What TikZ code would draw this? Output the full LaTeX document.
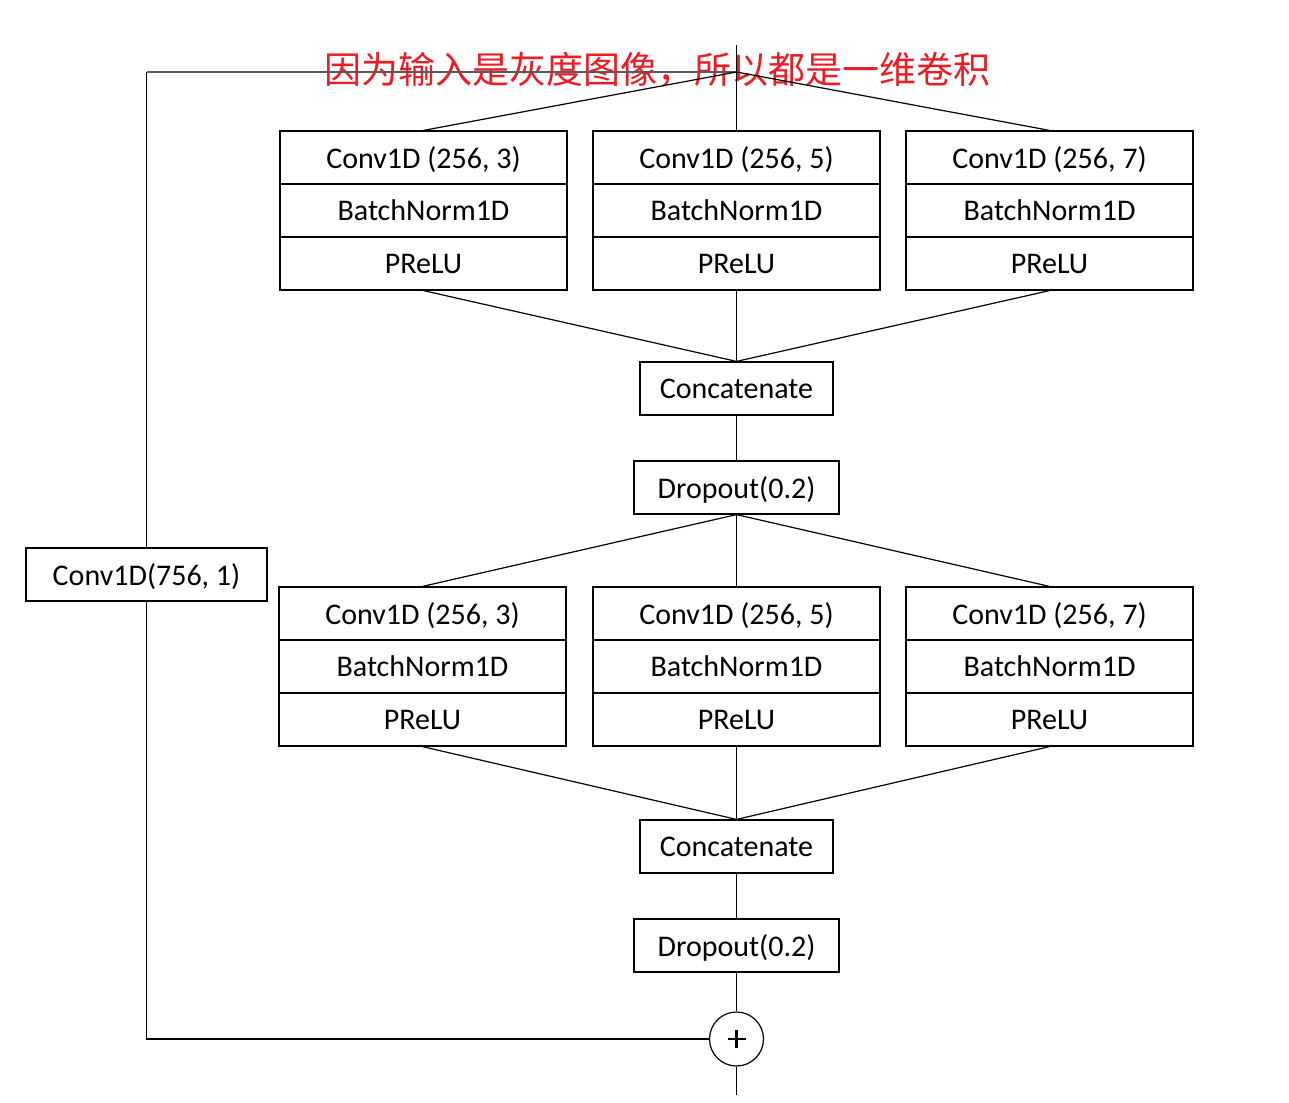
\documentclass[tikz,border=0pt]{standalone}
\usepackage{fontspec}
\setmainfont{Carlito}
\newfontfamily\cjk{Noto Sans CJK SC}
\definecolor{titlered}{RGB}{237,28,36}
\definecolor{linegray}{RGB}{89,89,89}
\begin{document}
\begin{tikzpicture}[x=1pt,y=-1pt,
  box/.style={draw=black,line width=1.2pt,rectangle,inner sep=0pt,text depth=0pt,font=\fontsize{30}{36}\selectfont},
  layer/.style={box,minimum width=287pt,minimum height=53pt},
  conn/.style={draw=black,line width=1.2pt}]
\useasboundingbox (0,0) rectangle (1289,1102);
% title
\node[text=titlered,font=\cjk\fontsize{37}{44}\selectfont,inner sep=0pt] (title) at (657.5,70) {因为输入是灰度图像，所以都是一维卷积};
% top row
\foreach \n/\x/\k in {a/423.5/3,b/736.5/5,c/1049.5/7}{
  \node[layer] (\n1) at (\x,157.5) {Conv1D (256, \k)};
  \node[layer] (\n2) at (\x,210.5) {BatchNorm1D};
  \node[layer] (\n3) at (\x,263.5) {PReLU};
}
\node[box,minimum width=193pt,minimum height=53pt] (cat1) at (736.5,388.5) {Concatenate};
\node[box,minimum width=205pt,minimum height=53pt] (drop1) at (736.5,487.5) {Dropout(0.2)};
\foreach \n/\x/\k in {d/422.5/3,e/736.5/5,f/1049.5/7}{
  \node[layer] (\n1) at (\x,613.5) {Conv1D (256, \k)};
  \node[layer] (\n2) at (\x,666.5) {BatchNorm1D};
  \node[layer] (\n3) at (\x,719.5) {PReLU};
}
\node[box,minimum width=193pt,minimum height=53pt] (cat2) at (736.5,846.5) {Concatenate};
\node[box,minimum width=205pt,minimum height=53pt] (drop2) at (736.5,945.5) {Dropout(0.2)};
\node[box,minimum width=241pt,minimum height=53pt] (skip) at (146.5,574.5) {Conv1D(756, 1)};
\node[draw=black,line width=1.2pt,circle,minimum size=54pt,inner sep=0pt] (add) at (736.5,1039) {};
\draw[line width=2.8pt] ([xshift=-9pt]add.center) -- ([xshift=9pt]add.center)
  ([yshift=-9pt]add.center) -- ([yshift=9pt]add.center);
% coordinates
\coordinate (in) at (736.5,45);
\coordinate (apex) at (736.5,72);
\coordinate (corner) at (146.5,72);
\coordinate (out) at (736.5,1095);
% connectors
\draw[draw=linegray,line width=1.4pt] (apex) -- (corner);
\draw[conn] (corner) -- (skip.north);
\draw[conn] (skip.south) |- (add.west);
\draw[conn] (in) -- (b1.north);
\draw[conn] (apex) -- (a1.north);
\draw[conn] (apex) -- (c1.north);
\draw[conn] (a3.south) -- (cat1.north);
\draw[conn] (b3.south) -- (cat1.north);
\draw[conn] (c3.south) -- (cat1.north);
\draw[conn] (cat1.south) -- (drop1.north);
\draw[conn] (drop1.south) -- (d1.north);
\draw[conn] (drop1.south) -- (e1.north);
\draw[conn] (drop1.south) -- (f1.north);
\draw[conn] (d3.south) -- (cat2.north);
\draw[conn] (e3.south) -- (cat2.north);
\draw[conn] (f3.south) -- (cat2.north);
\draw[conn] (cat2.south) -- (drop2.north);
\draw[conn] (drop2.south) -- (add.north);
\draw[conn] (add.south) -- (out);
\end{tikzpicture}
\end{document}
